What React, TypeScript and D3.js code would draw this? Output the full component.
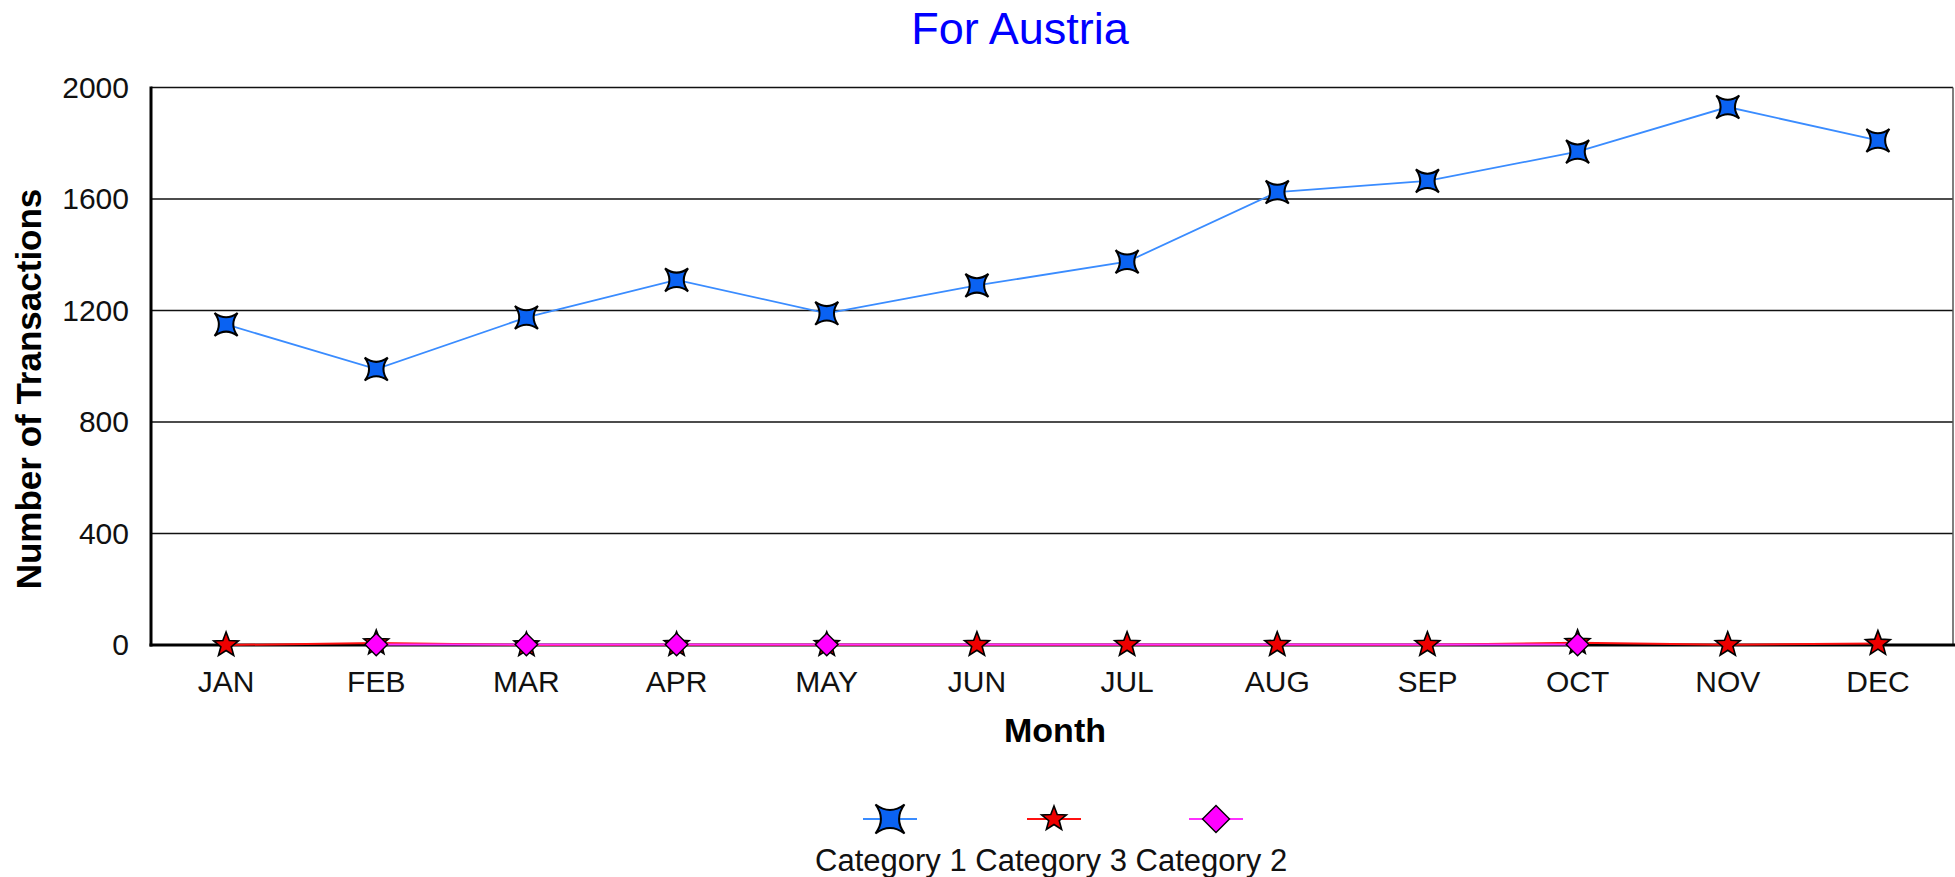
import React from 'react';
import * as d3 from 'd3';

const months = ['JAN', 'FEB', 'MAR', 'APR', 'MAY', 'JUN', 'JUL', 'AUG', 'SEP', 'OCT', 'NOV', 'DEC'];
const category1 = [1150, 990, 1175, 1310, 1190, 1290, 1375, 1625, 1665, 1770, 1930, 1810];
const category3 = [0, 7, 0, 1, 1, 1, 1, 1, 1, 8, 1, 5];
const category2: (number | null)[] = [null, 2, 2, 2, 2, null, null, null, null, 2, null, null];
const yTicks = [0, 400, 800, 1200, 1600, 2000];
const legendLabels = ['Category 1', 'Category 3', 'Category 2'];

const W = 1955;
const H = 877;
const FONT = "Arial, 'Liberation Sans', sans-serif";

function sparkle(s: number) {
  const c = s * 0.25;
  return `M${-s},${-s} Q0,${-c} ${s},${-s} Q${c},0 ${s},${s} Q0,${c} ${-s},${s} Q${-c},0 ${-s},${-s} Z`;
}
function star(R: number, r: number) {
  const pts: string[] = [];
  for (let i = 0; i < 10; i++) {
    const rad = i % 2 === 0 ? R : r;
    const a = -Math.PI / 2 + (i * Math.PI) / 5;
    pts.push(`${(rad * Math.cos(a)).toFixed(2)},${(rad * Math.sin(a)).toFixed(2)}`);
  }
  return 'M' + pts.join('L') + 'Z';
}
function diamond(s: number) {
  return `M0,${-s} L${s},0 L0,${s} L${-s},0 Z`;
}

export default function App() {
  const x = d3.scaleBand<string>().domain(months).range([151, 1953]);
  const cx = (m: string) => (x(m) as number) + x.bandwidth() / 2;
  const y = d3.scaleLinear().domain([0, 2000]).range([645, 87.5]);

  const line = d3
    .line<[string, number | null]>()
    .x((d) => cx(d[0]))
    .y((d) => y(d[1] as number));

  const pairs = (vals: (number | null)[]) =>
    months.map((m, i) => [m, vals[i]] as [string, number | null]).filter((d) => d[1] !== null);

  const c1 = pairs(category1);
  const c3 = pairs(category3);
  const c2 = pairs(category2);

  const blueLine = '#3a8cff';
  const blueFill = '#0a62f2';
  const redLine = '#ff1010';
  const redFill = '#ee0000';
  const magLine = '#ff30ff';
  const magFill = '#ff00ff';

  const legendY = 819;
  const legendXs = [890, 1054, 1216];

  return (
    <svg
      width={W}
      height={H}
      style={{ position: 'absolute', left: 0, top: 0, background: '#fff', display: 'block' }}
      fontFamily={FONT}
    >
      <rect x={0} y={0} width={W} height={H} fill="#fff" />
      {/* title */}
      <text x={1020} y={44} textAnchor="middle" fontSize={45} fill="#0000ff">
        For Austria
      </text>

      {/* gridlines */}
      {yTicks.filter((t) => t > 0).map((t) => (
        <line key={t} x1={151} x2={1953} y1={y(t)} y2={y(t)} stroke="#111" strokeWidth={1.6} />
      ))}
      <line x1={1953} x2={1953} y1={y(2000)} y2={y(0)} stroke="#555" strokeWidth={1.5} />

      {/* y tick labels */}
      {yTicks.map((t) => (
        <text key={t} x={129} y={y(t) + 10} textAnchor="end" fontSize={30} fill="#111">
          {t}
        </text>
      ))}

      {/* axes */}
      <line x1={151} x2={151} y1={y(2000) - 1} y2={y(0) + 1.5} stroke="#000" strokeWidth={3} />
      <line x1={149.5} x2={W} y1={y(0)} y2={y(0)} stroke="#000" strokeWidth={3} />

      {/* x tick labels */}
      {months.map((m) => (
        <text key={m} x={cx(m)} y={692} textAnchor="middle" fontSize={30} fill="#111">
          {m}
        </text>
      ))}

      {/* axis titles */}
      <text x={1055} y={742} textAnchor="middle" fontSize={34} fontWeight="bold" fill="#000">
        Month
      </text>
      <text
        transform="translate(41,389) rotate(-90)"
        textAnchor="middle"
        fontSize={35}
        fontWeight="bold"
        fill="#000"
      >
        Number of Transactions
      </text>

      {/* series lines */}
      <path d={line(c1) as string} fill="none" stroke={blueLine} strokeWidth={1.8} />
      <path d={line(c3) as string} fill="none" stroke={redLine} strokeWidth={2} />
      <path d={line(c2) as string} fill="none" stroke={magLine} strokeWidth={2} />

      {/* markers */}
      {c1.map(([m, v]) => (
        <path
          key={'b' + m}
          d={sparkle(11.5)}
          transform={`translate(${cx(m)},${y(v as number)})`}
          fill={blueFill}
          stroke="#000"
          strokeWidth={2}
          strokeLinejoin="miter"
        />
      ))}
      {c3.map(([m, v]) => (
        <path
          key={'r' + m}
          d={star(13, 5.5)}
          transform={`translate(${cx(m)},${y(v as number)})`}
          fill={redFill}
          stroke="#000"
          strokeWidth={1.6}
        />
      ))}
      {c2.map(([m, v]) => (
        <path
          key={'m' + m}
          d={diamond(11.3)}
          transform={`translate(${cx(m)},${y(v as number)})`}
          fill={magFill}
          stroke="#000"
          strokeWidth={1.4}
        />
      ))}

      {/* legend */}
      <g>
        <line x1={legendXs[0] - 27} x2={legendXs[0] + 27} y1={legendY} y2={legendY} stroke={blueLine} strokeWidth={2} />
        <path d={sparkle(14.5)} transform={`translate(${legendXs[0]},${legendY})`} fill={blueFill} stroke="#000" strokeWidth={2} />
        <line x1={legendXs[1] - 27} x2={legendXs[1] + 27} y1={legendY} y2={legendY} stroke={redLine} strokeWidth={2} />
        <path d={star(13, 5.5)} transform={`translate(${legendXs[1]},${legendY})`} fill={redFill} stroke="#000" strokeWidth={1.6} />
        <line x1={legendXs[2] - 27} x2={legendXs[2] + 27} y1={legendY} y2={legendY} stroke={magLine} strokeWidth={2} />
        <path d={diamond(13.5)} transform={`translate(${legendXs[2]},${legendY})`} fill={magFill} stroke="#000" strokeWidth={1.4} />
        <text x={815} y={871} fontSize={31} fill="#111">
          {legendLabels.join(' ')}
        </text>
      </g>
    </svg>
  );
}
